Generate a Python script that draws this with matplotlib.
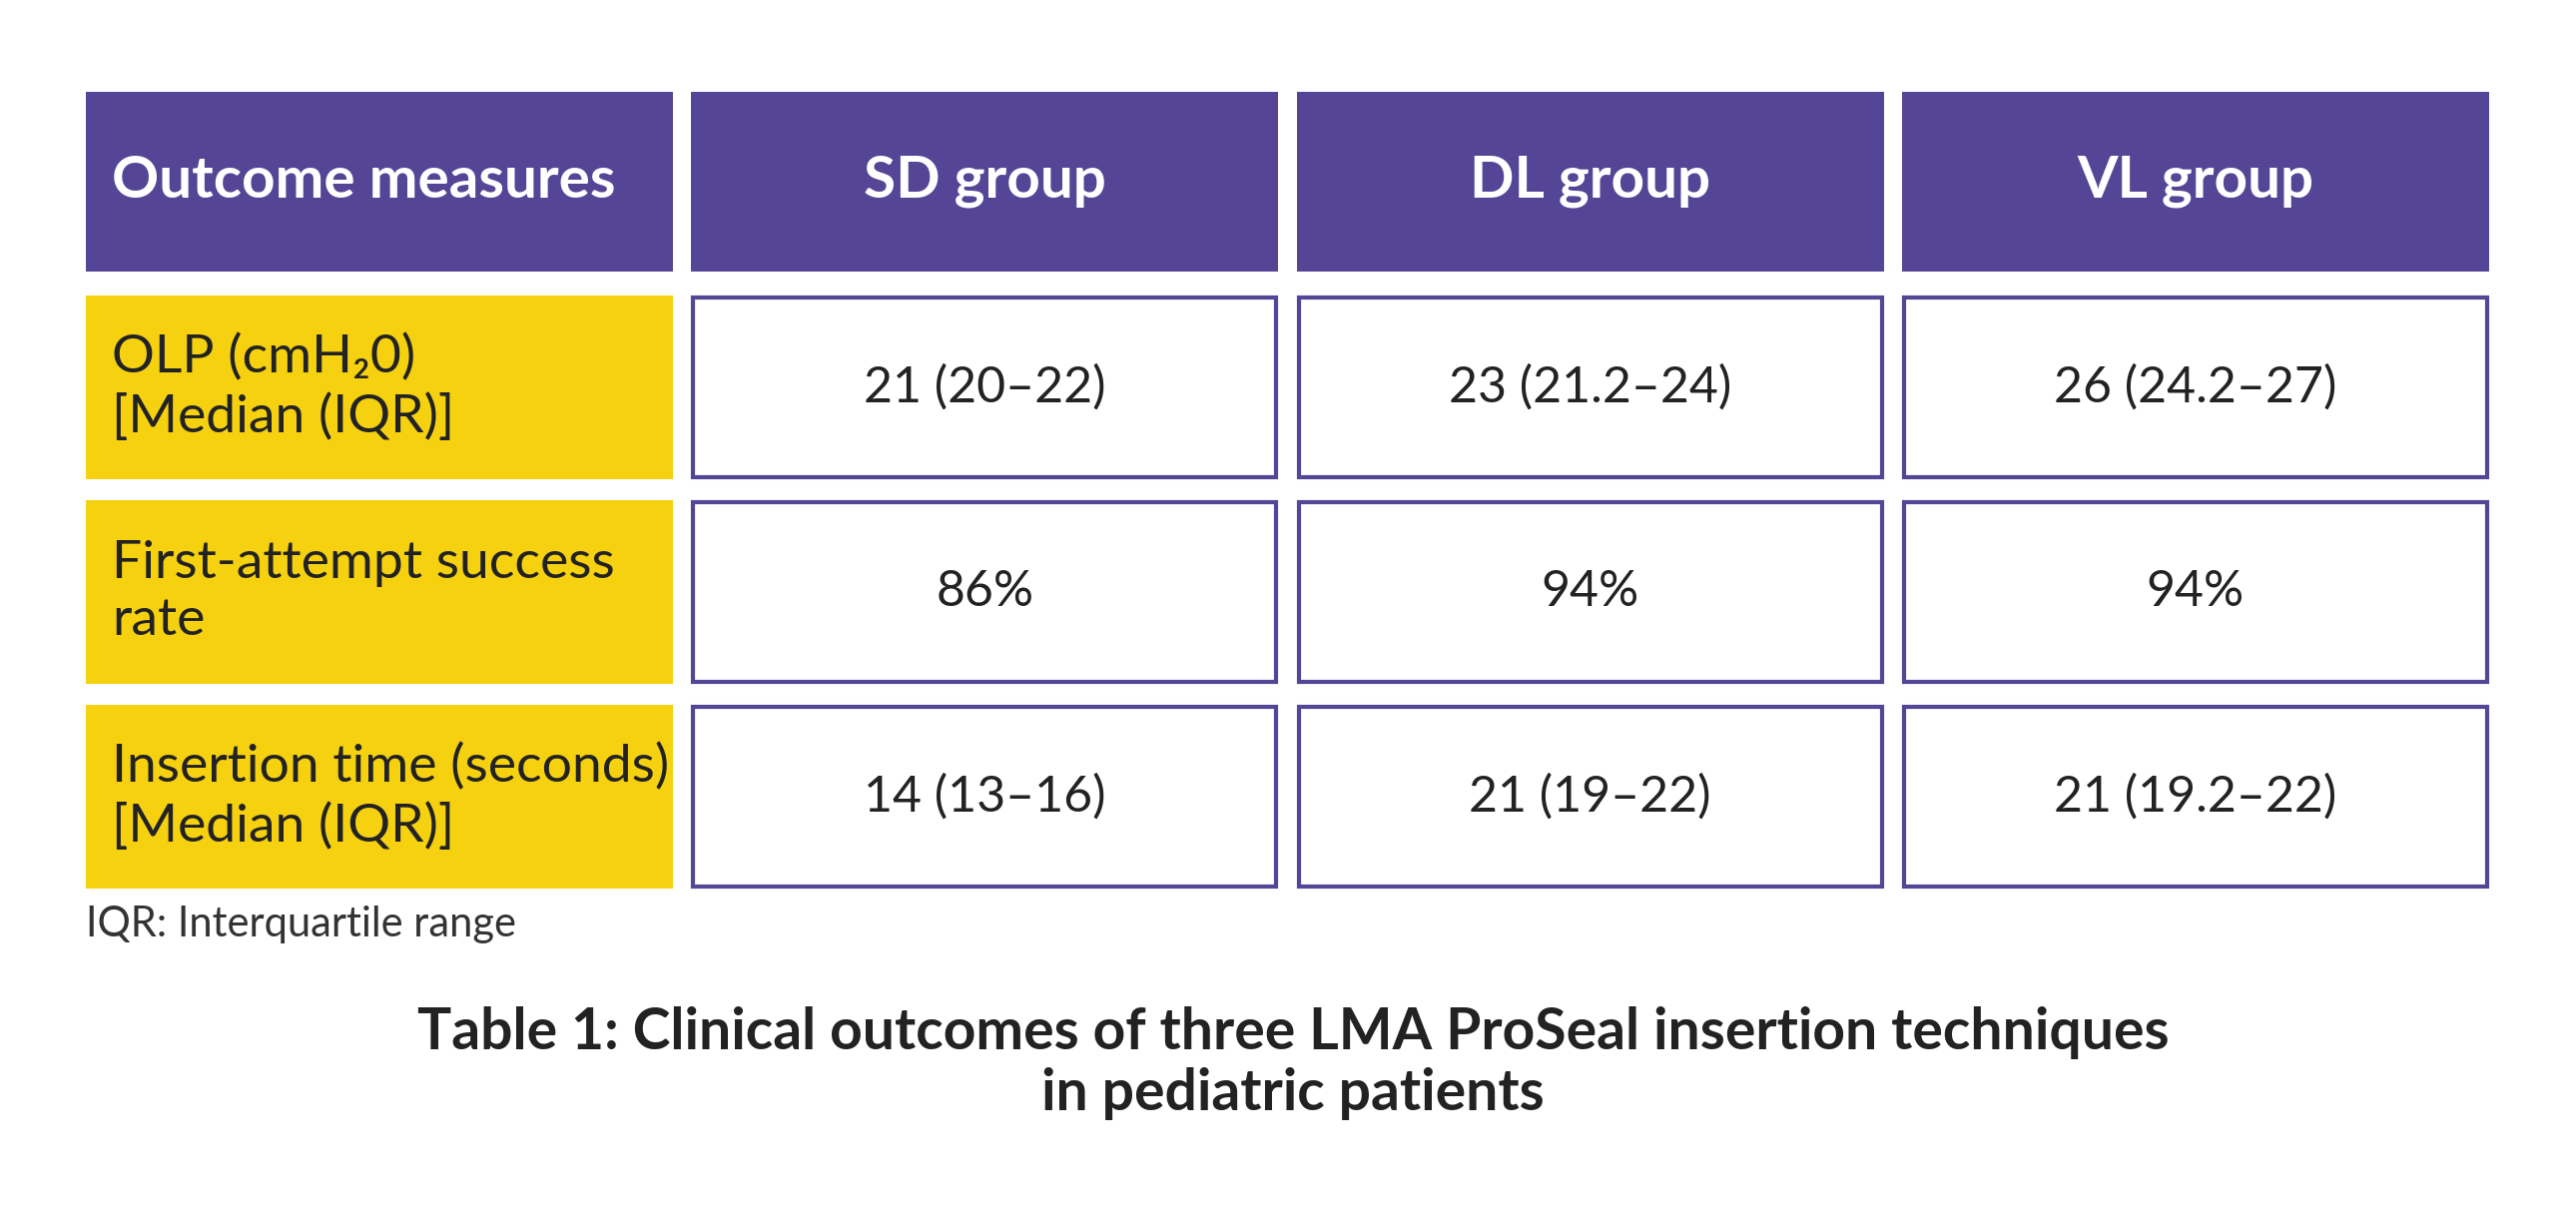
import matplotlib
matplotlib.use("Agg")
import matplotlib.pyplot as plt
from matplotlib.patches import Rectangle

# table content
columns = ["Outcome measures", "SD group", "DL group", "VL group"]
measures = [
    "OLP (cmH\u20820)\n[Median (IQR)]",
    "First-attempt success\nrate",
    "Insertion time (seconds)\n[Median (IQR)]",
]
sd_group = ["21 (20\u201322)", "86%", "14 (13\u201316)"]
dl_group = ["23 (21.2\u201324)", "94%", "21 (19\u201322)"]
vl_group = ["26 (24.2\u201327)", "94%", "21 (19.2\u201322)"]
footnote = "IQR: Interquartile range"
caption = "Table 1: Clinical outcomes of three LMA ProSeal insertion techniques\nin pediatric patients"

purple = "#554596"
yellow = "#f6d10f"
ink = "#222222"
fam = ["Lato", "DejaVu Sans"]

W, H = 2580, 1214
fig = plt.figure(figsize=(W / 100, H / 100), dpi=100)
ax = fig.add_axes([0, 0, 1, 1])
ax.set_xlim(0, W)
ax.set_ylim(H, 0)
ax.axis("off")

left, col_w, col_pitch = 86, 588, 606.3
head_top, head_h = 92, 180
body_top, body_h, row_pitch = 296, 184, 205
pad = 26

# header row
for j, name in enumerate(columns):
    x0 = left + j * col_pitch
    ax.add_patch(Rectangle((x0, head_top), col_w, head_h, facecolor=purple, edgecolor="none"))
    if j == 0:
        ax.text(x0 + pad, head_top + head_h / 2, name, ha="left", va="center",
                color="white", fontsize=42, fontweight="bold", family=fam)
    else:
        ax.text(x0 + col_w / 2, head_top + head_h / 2, name, ha="center", va="center",
                color="white", fontsize=42, fontweight="bold", family=fam)

# body rows
groups = [sd_group, dl_group, vl_group]
for i, label in enumerate(measures):
    y0 = body_top + i * row_pitch
    ax.add_patch(Rectangle((left, y0), col_w, body_h, facecolor=yellow, edgecolor="none"))
    ax.text(left + pad, y0 + body_h / 2, label, ha="left", va="center", color=ink,
            fontsize=38.5, family=fam, linespacing=1.27)
    for j, vals in enumerate(groups):
        x0 = left + (j + 1) * col_pitch
        ax.add_patch(Rectangle((x0 + 2, y0 + 2), col_w - 4, body_h - 4,
                               facecolor="white", edgecolor=purple, linewidth=3))
        ax.text(x0 + col_w / 2, y0 + body_h / 2, vals[i], ha="center", va="center",
                color=ink, fontsize=36, family=fam)

ax.text(left, 926, footnote, ha="left", va="center", color="#333333",
        fontsize=30, family=fam)
ax.text(1295, 1065, caption, ha="center", va="center", color=ink,
        fontsize=41, fontweight="bold", family=fam, linespacing=1.2)

fig.savefig("out.png", dpi=100, facecolor="white")
